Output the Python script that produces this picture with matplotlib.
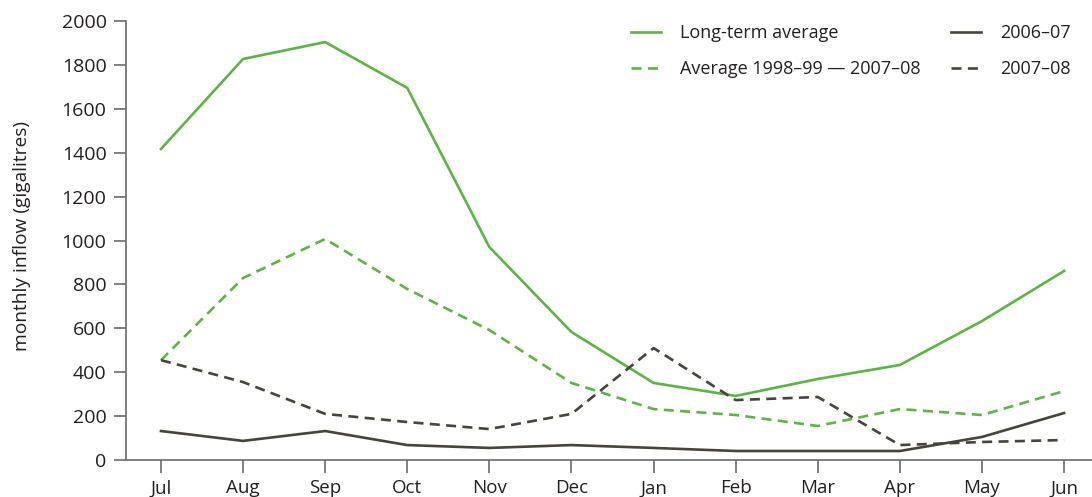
import numpy as np
import matplotlib.pyplot as plt

plt.rcParams['font.family'] = ['Open Sans', 'DejaVu Sans']

months = ['Jul', 'Aug', 'Sep', 'Oct', 'Nov', 'Dec', 'Jan', 'Feb', 'Mar', 'Apr', 'May', 'Jun']
long_term = [1417, 1827, 1904, 1695, 970, 583, 351, 292, 369, 433, 633, 861]
avg_decade = [455, 829, 1007, 779, 592, 351, 232, 205, 155, 232, 205, 314]
y2006_07 = [132, 87, 132, 68, 55, 68, 55, 41, 41, 41, 105, 214]
y2007_08 = [455, 355, 210, 173, 141, 210, 510, 273, 287, 68, 82, 91]

green = '#5db346'
dark = '#46443c'
axis_col = '#6b6b6b'
text_col = '#231f20'

fig = plt.figure(figsize=(10.92, 4.97), dpi=100)
ax = fig.add_axes([126 / 1092, 37 / 497, 1 - 126 / 1092, 439 / 497])

x = np.arange(len(months))
lw = 1.9
dash = (3.8, 2.4)
ax.plot(x, long_term, color=green, lw=lw, label='Long-term average')
ax.plot(x, avg_decade, color=green, lw=lw, dashes=dash, label='Average 1998–99 — 2007–08')
ax.plot(x, y2006_07, color=dark, lw=lw, label='2006–07')
ax.plot(x, y2007_08, color=dark, lw=lw, dashes=dash, label='2007–08')

ax.set_xlim(-0.426, 11.34)
ax.set_ylim(0, 2000)
ax.set_xticks(x)
ax.set_xticklabels(months)
ax.set_yticks(np.arange(0, 2001, 200))

for s in ['top', 'right']:
    ax.spines[s].set_visible(False)
for s in ['left', 'bottom']:
    ax.spines[s].set_color(axis_col)
    ax.spines[s].set_linewidth(1.2)
ax.tick_params(axis='both', colors=axis_col, labelcolor=text_col,
               length=9, width=1.2, direction='out')
ax.tick_params(axis='y', labelsize=14, pad=5)
ax.tick_params(axis='x', labelsize=13.5, pad=5)

fig.text(22 / 1092, 1 - 236 / 497, 'monthly inflow (gigalitres)', rotation=90,
         ha='center', va='center', fontsize=13.8, color=text_col)

ax.legend(ncol=2, frameon=False, loc='upper left', bbox_to_anchor=(631 / 1092, 1 - 24 / 497),
          bbox_transform=fig.transFigure, borderaxespad=0, borderpad=0,
          handlelength=1.66, handletextpad=1.05, columnspacing=1.7, labelspacing=1.0,
          fontsize=13, labelcolor=text_col)

fig.savefig('out.png', dpi=100)
